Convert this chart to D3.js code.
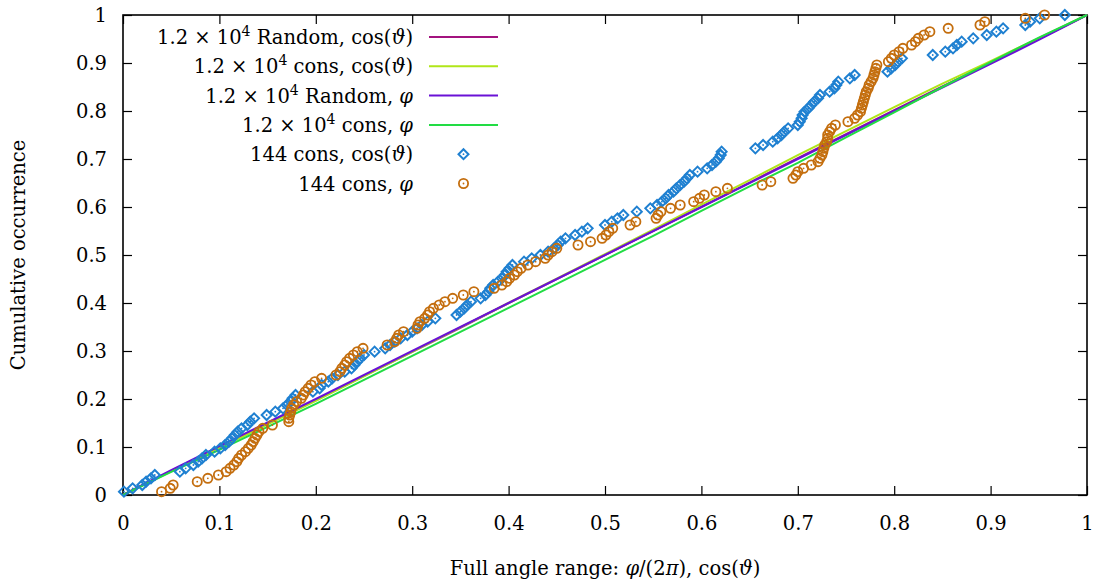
<!DOCTYPE html>
<html>
<head>
<meta charset="utf-8">
<script src="https://cdn.jsdelivr.net/npm/d3@7"></script>
<style>
  html, body { margin: 0; padding: 0; background: #fff; }
  svg { display: block; font-family: "DejaVu Serif", serif; }
</style>
</head>
<body>
<svg id="chart" width="1093" height="586"></svg>
<script>
// Sample grid for the 1.2e4-sample cumulative curves
const gridX = [0, 0.05, 0.1, 0.15, 0.2, 0.25, 0.3, 0.35, 0.4, 0.45, 0.5,
               0.55, 0.6, 0.65, 0.7, 0.75, 0.8, 0.85, 0.9, 0.95, 1];
const randomCos = [0, 0.05, 0.1, 0.148, 0.197, 0.248, 0.298, 0.348, 0.4, 0.45, 0.5,
                   0.55, 0.6, 0.651, 0.702, 0.752, 0.802, 0.851, 0.9, 0.95, 1];
const consCos   = [0, 0.05, 0.098, 0.147, 0.196, 0.247, 0.298, 0.349, 0.4, 0.451, 0.502,
                   0.553, 0.605, 0.656, 0.708, 0.758, 0.808, 0.857, 0.904, 0.952, 1];
const randomPhi = [0, 0.052, 0.102, 0.151, 0.2, 0.25, 0.3, 0.35, 0.4, 0.45, 0.5,
                   0.55, 0.6, 0.65, 0.7, 0.75, 0.8, 0.849, 0.898, 0.948, 1];
const consPhi   = [0, 0.048, 0.094, 0.142, 0.19, 0.24, 0.29, 0.34, 0.39, 0.44, 0.49,
                   0.54, 0.592, 0.643, 0.692, 0.745, 0.797, 0.85, 0.902, 0.953, 1];

// Sorted sample values of the 144-configuration sets (cumulative rank = i/144)
const cons144Cos = [
  0.001, 0.010, 0.020, 0.024, 0.029, 0.033, 0.059, 0.065, 0.073, 0.078,
  0.082, 0.086, 0.095, 0.101, 0.106, 0.110, 0.113, 0.116, 0.119, 0.123,
  0.129, 0.132, 0.136, 0.149, 0.158, 0.166, 0.170, 0.174, 0.176, 0.179,
  0.197, 0.204, 0.206, 0.213, 0.217, 0.223, 0.230, 0.237, 0.240, 0.243,
  0.246, 0.250, 0.261, 0.272, 0.277, 0.282, 0.288, 0.295, 0.300, 0.305,
  0.310, 0.316, 0.324, 0.346, 0.350, 0.354, 0.357, 0.361, 0.371, 0.376,
  0.379, 0.381, 0.384, 0.389, 0.393, 0.396, 0.398, 0.401, 0.404, 0.416,
  0.424, 0.433, 0.441, 0.447, 0.451, 0.454, 0.459, 0.469, 0.476, 0.482,
  0.500, 0.507, 0.513, 0.519, 0.533, 0.547, 0.554, 0.559, 0.563, 0.566,
  0.571, 0.574, 0.578, 0.582, 0.585, 0.588, 0.596, 0.606, 0.611, 0.615,
  0.618, 0.620, 0.621, 0.656, 0.664, 0.674, 0.679, 0.683, 0.686, 0.690,
  0.700, 0.702, 0.704, 0.705, 0.707, 0.711, 0.714, 0.717, 0.721, 0.723,
  0.733, 0.738, 0.740, 0.742, 0.754, 0.759, 0.793, 0.797, 0.801, 0.804,
  0.808, 0.840, 0.853, 0.861, 0.865, 0.870, 0.882, 0.896, 0.906, 0.913,
  0.936, 0.941, 0.951, 0.977
];
const cons144Phi = [
  0.040, 0.049, 0.052, 0.077, 0.088, 0.099, 0.107, 0.111, 0.115, 0.118,
  0.120, 0.123, 0.127, 0.130, 0.133, 0.135, 0.137, 0.139, 0.141, 0.145,
  0.155, 0.172, 0.172, 0.173, 0.174, 0.175, 0.177, 0.180, 0.185, 0.187,
  0.189, 0.192, 0.195, 0.199, 0.206, 0.221, 0.225, 0.227, 0.230, 0.232,
  0.235, 0.239, 0.243, 0.249, 0.274, 0.282, 0.284, 0.286, 0.291, 0.305,
  0.306, 0.308, 0.313, 0.316, 0.318, 0.322, 0.328, 0.334, 0.342, 0.353,
  0.364, 0.385, 0.393, 0.398, 0.401, 0.406, 0.409, 0.413, 0.420, 0.428,
  0.438, 0.441, 0.445, 0.450, 0.472, 0.485, 0.497, 0.501, 0.504, 0.508,
  0.526, 0.532, 0.553, 0.555, 0.558, 0.568, 0.578, 0.592, 0.598, 0.603,
  0.615, 0.627, 0.663, 0.672, 0.695, 0.698, 0.700, 0.706, 0.714, 0.721,
  0.723, 0.725, 0.726, 0.727, 0.728, 0.730, 0.731, 0.731, 0.733, 0.735,
  0.739, 0.752, 0.759, 0.762, 0.765, 0.766, 0.767, 0.768, 0.769, 0.770,
  0.771, 0.773, 0.774, 0.776, 0.778, 0.779, 0.780, 0.781, 0.782, 0.794,
  0.797, 0.800, 0.805, 0.809, 0.818, 0.822, 0.825, 0.831, 0.837, 0.856,
  0.889, 0.894, 0.936, 0.956
];

const tickValues = [0, 0.1, 0.2, 0.3, 0.4, 0.5, 0.6, 0.7, 0.8, 0.9, 1];
const tickLabels = ["0", "0.1", "0.2", "0.3", "0.4", "0.5", "0.6", "0.7", "0.8", "0.9", "1"];

const colors = {
  randomCos: "#a3137f",
  consCos: "#b0e619",
  randomPhi: "#6a12d6",
  consPhi: "#22dc44",
  pts144Cos: "#1f80d1",
  pts144Phi: "#c46e0e"
};

const svg = d3.select("#chart");
const box = { left: 123, right: 1087, top: 15, bottom: 495 };

const x = d3.scaleLinear().domain([0, 1]).range([box.left, box.right]);
const y = d3.scaleLinear().domain([0, 1]).range([box.bottom, box.top]);

const fontSize = 19.5;
const fmt = d => tickLabels[tickValues.indexOf(d)];

// Axes with inward ticks, mirrored on top and right
const gx = svg.append("g").attr("transform", `translate(0,${box.bottom})`)
  .call(d3.axisBottom(x).tickValues(tickValues).tickFormat(fmt).tickSizeInner(-9).tickSizeOuter(0).tickPadding(21));
const gy = svg.append("g").attr("transform", `translate(${box.left},0)`)
  .call(d3.axisLeft(y).tickValues(tickValues).tickFormat(fmt).tickSizeInner(-9).tickSizeOuter(0).tickPadding(16));
const gt = svg.append("g").attr("transform", `translate(0,${box.top})`)
  .call(d3.axisTop(x).tickValues(tickValues).tickFormat("").tickSizeInner(-9).tickSizeOuter(0));
const gr = svg.append("g").attr("transform", `translate(${box.right},0)`)
  .call(d3.axisRight(y).tickValues(tickValues).tickFormat("").tickSizeInner(-9).tickSizeOuter(0));

[gx, gy, gt, gr].forEach(g => {
  g.select(".domain").remove();
  g.selectAll(".tick line").attr("stroke", "#000").attr("stroke-width", 1.2);
  g.selectAll(".tick text").attr("font-family", "DejaVu Serif").attr("font-size", fontSize).attr("fill", "#000");
});

// Frame
svg.append("rect")
  .attr("x", box.left).attr("y", box.top)
  .attr("width", box.right - box.left).attr("height", box.bottom - box.top)
  .attr("fill", "none").attr("stroke", "#000").attr("stroke-width", 1.6);

// Cumulative curves of the large samples
const line = d3.line().x(d => x(d[0])).y(d => y(d[1]));
const curves = [
  { vals: randomCos, color: colors.randomCos },
  { vals: consCos, color: colors.consCos },
  { vals: randomPhi, color: colors.randomPhi },
  { vals: consPhi, color: colors.consPhi }
];
curves.forEach(c => {
  svg.append("path")
    .datum(gridX.map((gxv, i) => [gxv, c.vals[i]]))
    .attr("d", line)
    .attr("fill", "none")
    .attr("stroke", c.color)
    .attr("stroke-width", 2);
});

// Marker drawers
function diamond(g, cx, cy, color) {
  const r = 5;
  g.append("path")
    .attr("d", `M${cx},${cy - r}L${cx + r},${cy}L${cx},${cy + r}L${cx - r},${cy}Z`)
    .attr("fill", "none").attr("stroke", color).attr("stroke-width", 2);
  g.append("circle").attr("cx", cx).attr("cy", cy).attr("r", 0.9).attr("fill", color);
}
function ring(g, cx, cy, color) {
  g.append("circle").attr("cx", cx).attr("cy", cy).attr("r", 4.6)
    .attr("fill", "none").attr("stroke", color).attr("stroke-width", 1.8);
  g.append("circle").attr("cx", cx).attr("cy", cy).attr("r", 0.9).attr("fill", color);
}

const N = 144;
const gCos = svg.append("g");
cons144Cos.forEach((v, i) => diamond(gCos, x(v), y((i + 1) / N), colors.pts144Cos));
const gPhi = svg.append("g");
cons144Phi.forEach((v, i) => ring(gPhi, x(v), y((i + 1) / N), colors.pts144Phi));

// Legend
const legend = [
  { parts: ["1.2 × 10", "4", " Random, cos(", "ϑ", ")"], kind: "line", color: colors.randomCos },
  { parts: ["1.2 × 10", "4", " cons, cos(", "ϑ", ")"], kind: "line", color: colors.consCos },
  { parts: ["1.2 × 10", "4", " Random, ", "φ", ""], kind: "line", color: colors.randomPhi },
  { parts: ["1.2 × 10", "4", " cons, ", "φ", ""], kind: "line", color: colors.consPhi },
  { parts: ["144 cons, cos(", "ϑ", ")"], kind: "diamond", color: colors.pts144Cos },
  { parts: ["144 cons, ", "φ"], kind: "ring", color: colors.pts144Phi }
];
const legTextX = 413, legLineX0 = 429, legLineX1 = 498, legY0 = 37, legDy = 29.3;
legend.forEach((e, k) => {
  const yy = legY0 + k * legDy;
  const t = svg.append("text").attr("x", legTextX).attr("y", yy + 7)
    .attr("text-anchor", "end").attr("font-size", fontSize).attr("fill", "#000");
  if (e.parts.length === 5) {
    t.append("tspan").text(e.parts[0]);
    t.append("tspan").attr("dy", -8).attr("font-size", 14).text(e.parts[1]);
    t.append("tspan").attr("dy", 8).text(e.parts[2]);
    t.append("tspan").attr("font-style", "italic").text(e.parts[3]);
    if (e.parts[4]) t.append("tspan").text(e.parts[4]);
  } else {
    t.append("tspan").text(e.parts[0]);
    t.append("tspan").attr("font-style", "italic").text(e.parts[1]);
    if (e.parts[2]) t.append("tspan").text(e.parts[2]);
  }
  if (e.kind === "line") {
    svg.append("line").attr("x1", legLineX0).attr("x2", legLineX1).attr("y1", yy).attr("y2", yy)
      .attr("stroke", e.color).attr("stroke-width", 2);
  } else if (e.kind === "diamond") {
    diamond(svg, (legLineX0 + legLineX1) / 2, yy, e.color);
  } else {
    ring(svg, (legLineX0 + legLineX1) / 2, yy, e.color);
  }
});

// Axis titles
const xt = svg.append("text").attr("x", 605).attr("y", 575)
  .attr("text-anchor", "middle").attr("font-size", fontSize);
xt.append("tspan").text("Full angle range: ");
xt.append("tspan").attr("font-style", "italic").text("φ");
xt.append("tspan").text("/(2");
xt.append("tspan").attr("font-style", "italic").text("π");
xt.append("tspan").text("), cos(");
xt.append("tspan").attr("font-style", "italic").text("ϑ");
xt.append("tspan").text(")");

svg.append("text")
  .attr("transform", "translate(25,255) rotate(-90)")
  .attr("text-anchor", "middle").attr("font-size", fontSize)
  .text("Cumulative occurrence");
</script>
</body>
</html>
